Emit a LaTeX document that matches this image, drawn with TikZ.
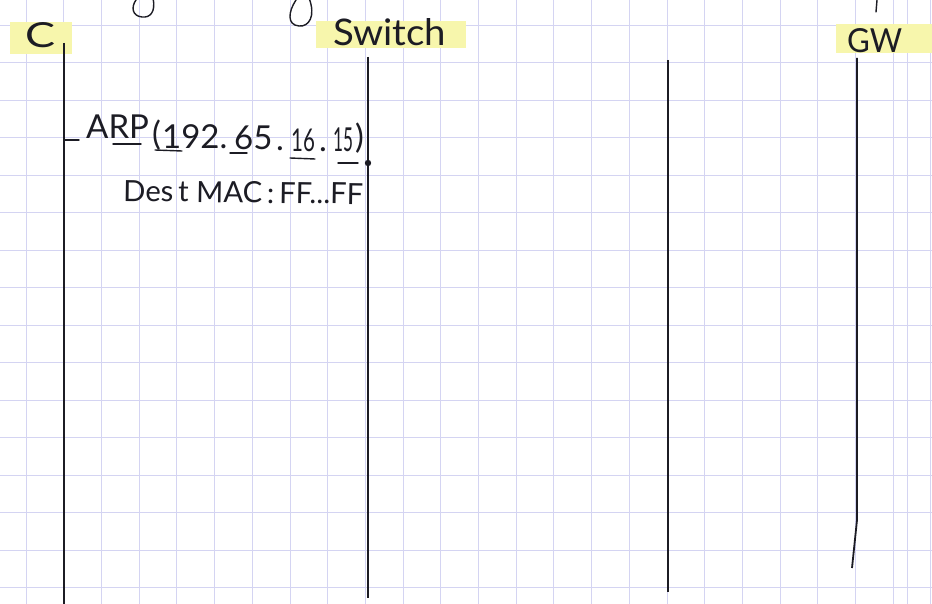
\documentclass[tikz,border=0pt]{standalone}
\usepackage{fontspec}
\setmainfont{Lato}
\usepackage{graphicx}
\definecolor{gridc}{RGB}{212,212,242}
\definecolor{hilite}{RGB}{247,246,172}
\definecolor{ink}{RGB}{28,28,36}
\tikzset{
  gridline/.style={draw=gridc, line width=0.8pt},
  hl/.style={fill=hilite, draw=none},
  lifeline/.style={draw=ink, line width=1.8pt},
  pen/.style={draw=ink, line width=1.4pt, line cap=round},
  txt/.style={inner sep=0pt, anchor=north west, text=ink},
  hw/.style={inner sep=0pt, anchor=base west, text=ink, font=\fontsize{33}{33}\selectfont},
}
\begin{document}
\begin{tikzpicture}[x=1pt,y=-1pt]
\useasboundingbox (0,0) rectangle (932,604);
\fill[white] (0,0) rectangle (932,604);
% grid
\foreach \k in {0,...,24} {\draw[gridline] ({26+37.7*\k},0) -- ({26+37.7*\k},604);}
\draw[gridline] (907,0) -- (907,604);
\foreach \k in {0,...,15} {\draw[gridline] (0,{25+37.5*\k}) -- (932,{25+37.5*\k});}
% highlights
\fill[hl] (10,22) rectangle (72,54);
\fill[hl] (316,21) rectangle (466,48);
\fill[hl] (836,24) rectangle (932,53);
% top fragments of handwriting
\draw[pen] (153,-2) .. controls (156,12) and (150,18) .. (142,17) .. controls (132,16) and (131,7) .. (136,0);
\draw[pen] (309,-2) .. controls (316,16) and (309,27) .. (299,26) .. controls (287,25) and (288,12) .. (296,0);
\draw[pen] (877,0) -- (876,12);
% labels
\node[txt] (C) at (25,22) {\resizebox{30pt}{25pt}{C}};
\node[txt] (SW) at (333,18) {\resizebox{113pt}{27pt}{Switch}};
\node[txt] (GW) at (847,28) {\resizebox{55pt}{24pt}{GW}};
% lifelines
\coordinate (cTop) at (64,43);   \coordinate (cBot) at (64,604);
\coordinate (sTop) at (368,57);  \coordinate (sBot) at (368,598);
\coordinate (xTop) at (668,60);  \coordinate (xBot) at (668,592);
\coordinate (gTop) at (857,58);  \coordinate (gKink) at (857,520); \coordinate (gBot) at (852,568);
\draw[lifeline] (cTop) -- (cBot);
\draw[lifeline] (sTop) -- (sBot);
\draw[lifeline] (xTop) -- (xBot);
\draw[lifeline] (gTop) -- (gKink) -- (gBot);
% ARP message
\coordinate (tickA) at (64,140);
\coordinate (tickB) at (79,140);
\draw[pen] (tickA) -- (tickB);
\node[hw] (arp) at (86,139) {ARP};
\node[hw] (lp) at (152,146) {(};
\node[hw] (n1) at (162,149) {192.};
\node[hw] (n2) at (234,150) {65};
\node[hw] (d2) at (276,151) {.};
\node[hw] (n3) at (291,152) {\scalebox{0.62}[0.95]{16}};
\node[hw] (d3) at (319,152) {.};
\node[hw] (n4) at (333,152) {\scalebox{0.52}[1]{15}};
\node[hw] (rp) at (355,149) {)};
\node[inner sep=0pt, anchor=base west, text=ink, rotate=-0.8] (dest) at (123,201)
  {\resizebox{240pt}{!}{\fontsize{30}{30}\selectfont Des\,t MAC\,:\,FF...FF}};
\coordinate (dot) at (368,163);
\fill[ink] (dot) circle (3.2pt);
% underlines
\draw[pen] (113,144) -- (141,144);
\draw[pen] (155,150) -- (182,151);
\draw[pen] (230,153) -- (247,153);
\draw[pen] (290,158) -- (315,159);
\draw[pen] (338,163) -- (358,163);
\end{tikzpicture}
\end{document}
